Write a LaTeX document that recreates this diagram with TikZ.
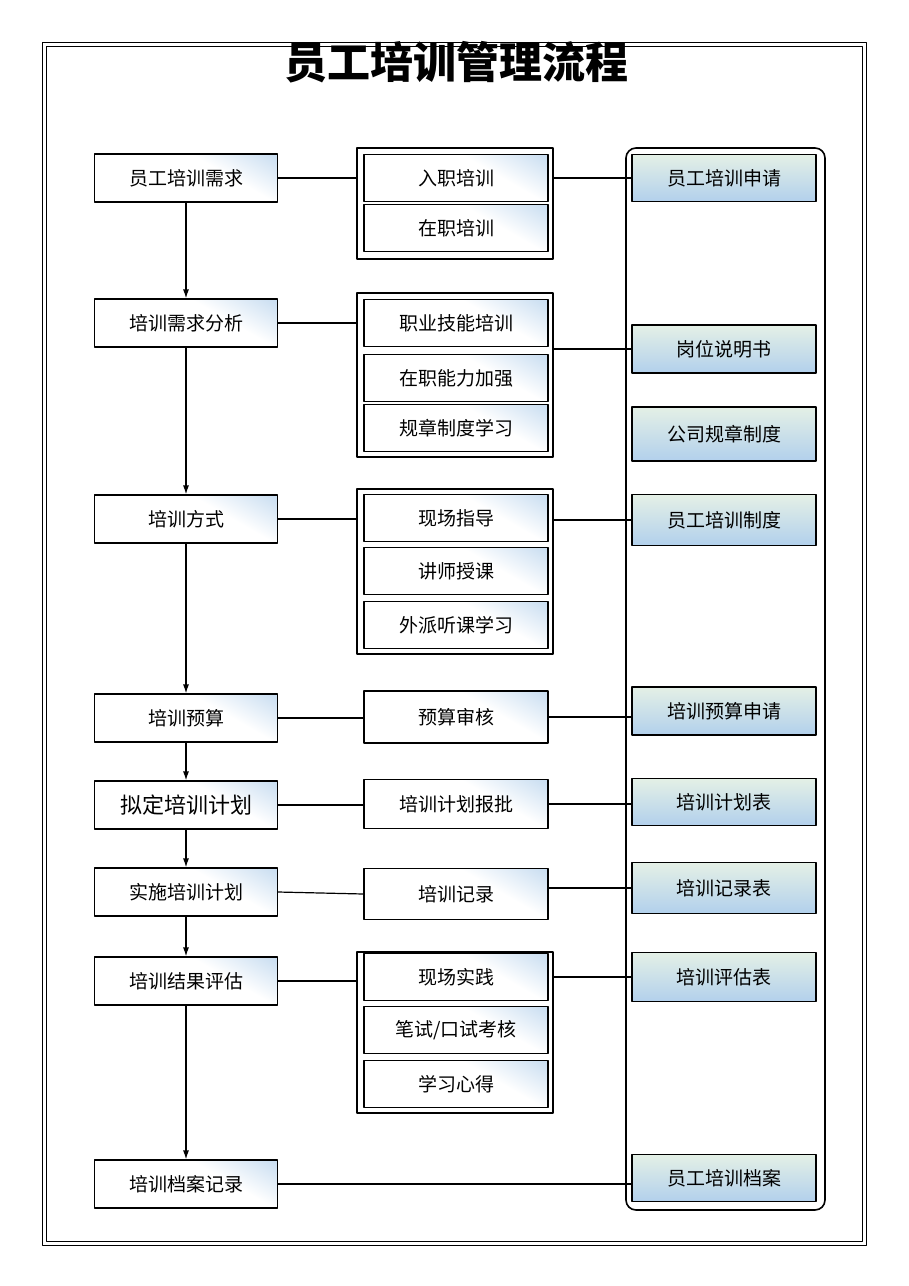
\documentclass[tikz,border=0pt]{standalone}
\usepackage{fontspec}
\setmainfont{Noto Sans CJK SC}
\usetikzlibrary{arrows.meta}
\definecolor{cblue}{RGB}{160,196,230}
\definecolor{cgreen}{RGB}{228,240,230}
\definecolor{rblue}{RGB}{178,208,236}
\pgfdeclarehorizontalshading{corner}{100bp}{color(0bp)=(white); color(62bp)=(white); color(100bp)=(cblue)}
\tikzset{
  stage/.style={draw,line width=1.2pt,shading=corner,shading angle=60,minimum width=183pt,minimum height=48pt,font=\fontsize{19pt}{19pt}\selectfont},
  item/.style={stage,minimum width=184pt,minimum height=47pt},
  doc/.style={draw,line width=1.2pt,top color=cgreen,bottom color=rblue,minimum width=184pt,minimum height=47pt,font=\fontsize{19pt}{19pt}\selectfont},
  group/.style={draw,line width=1.2pt},
  link/.style={line width=1.2pt},
  flow/.style={line width=1.2pt,-{Latex[length=9pt,width=6pt]}}
}
\begin{document}
\begin{tikzpicture}[x=1pt,y=-1pt,line join=round]
\useasboundingbox (0,0) rectangle (909,1286);
% frame
\draw[line width=1pt] (42,42) rectangle (866,1245);
\draw[line width=1pt] (46,46) rectangle (862,1241);
\node[font=\fontsize{43pt}{43pt}\selectfont\bfseries] (title) at (456,62) {员工培训管理流程};

% left column
\node[stage] (s1) at (186,178) {员工培训需求};
\node[stage] (s2) at (186,323) {培训需求分析};
\node[stage] (s3) at (186,519) {培训方式};
\node[stage] (s4) at (186,718) {培训预算};
\node[stage,font=\fontsize{22pt}{22pt}\selectfont] (s5) at (186,805) {拟定培训计划};
\node[stage] (s6) at (186,892) {实施培训计划};
\node[stage] (s7) at (186,981) {培训结果评估};
\node[stage] (s8) at (186,1184) {培训档案记录};
\foreach \a/\b in {s1/s2,s2/s3,s3/s4,s4/s5,s5/s6,s6/s7,s7/s8}
  \draw[flow] (\a) -- (\b);

% middle column
\node[group,minimum width=196pt,minimum height=111pt] (g1) at (455,203.5) {};
\node[item] (m11) at (456,178) {入职培训};
\node[item] (m12) at (456,228) {在职培训};
\node[group,minimum width=196pt,minimum height=164pt] (g2) at (455,375) {};
\node[item] (m21) at (456,323) {职业技能培训};
\node[item] (m22) at (456,378) {在职能力加强};
\node[item] (m23) at (456,428) {规章制度学习};
\node[group,minimum width=196pt,minimum height=165pt] (g3) at (455,571.5) {};
\node[item] (m31) at (456,518) {现场指导};
\node[item] (m32) at (456,571) {讲师授课};
\node[item] (m33) at (456,625) {外派听课学习};
\node[item,minimum height=52pt] (m4) at (456,717) {预算审核};
\node[item,minimum height=49pt] (m5) at (456,804) {培训计划报批};
\node[item,minimum height=51pt] (m6) at (456,894) {培训记录};
\node[group,minimum width=196pt,minimum height=161pt] (g7) at (455,1032.5) {};
\node[item] (m71) at (456,977) {现场实践};
\node[item] (m72) at (456,1030) {笔试/口试考核};
\node[item] (m73) at (456,1084) {学习心得};

% right column
\node[draw,line width=1.6pt,rounded corners=10pt,minimum width=199pt,minimum height=1062pt] (rc) at (725.5,679) {};
\node[doc] (r1) at (724,178) {员工培训申请};
\node[doc,minimum height=48pt] (r2) at (724,349) {岗位说明书};
\node[doc,minimum height=54pt] (r3) at (724,434) {公司规章制度};
\node[doc,minimum height=51pt] (r4) at (724,520) {员工培训制度};
\node[doc,minimum height=48pt] (r5) at (724,711) {培训预算申请};
\node[doc] (r6) at (724,802) {培训计划表};
\node[doc,minimum height=51pt] (r7) at (724,888) {培训记录表};
\node[doc,minimum height=49pt] (r8) at (724,977) {培训评估表};
\node[doc] (r9) at (724,1178) {员工培训档案};

% connectors
\draw[link] (s1.east) -- (g1.west |- s1.east);
\draw[link] (s2.east) -- (g2.west |- s2.east);
\draw[link] (s3.east) -- (g3.west |- s3.east);
\draw[link] (s4.east) -- (m4.west |- s4.east);
\draw[link] (s5.east) -- (m5.west |- s5.east);
\draw[link] (s6.east) -- (m6.west);
\draw[link] (s7.east) -- (g7.west |- s7.east);
\draw[link] (g1.east |- r1.west) -- (r1.west);
\draw[link] (g2.east |- r2.west) -- (r2.west);
\draw[link] (g3.east |- r4.west) -- (r4.west);
\draw[link] (m4.east) -- (r5.west |- m4.east);
\draw[link] (m5.east) -- (r6.west |- m5.east);
\draw[link] (m6.east |- r7.west) -- (r7.west);
\draw[link] (g7.east |- r8.west) -- (r8.west);
\draw[link] (s8.east) -- (r9.west |- s8.east);
\end{tikzpicture}
\end{document}
